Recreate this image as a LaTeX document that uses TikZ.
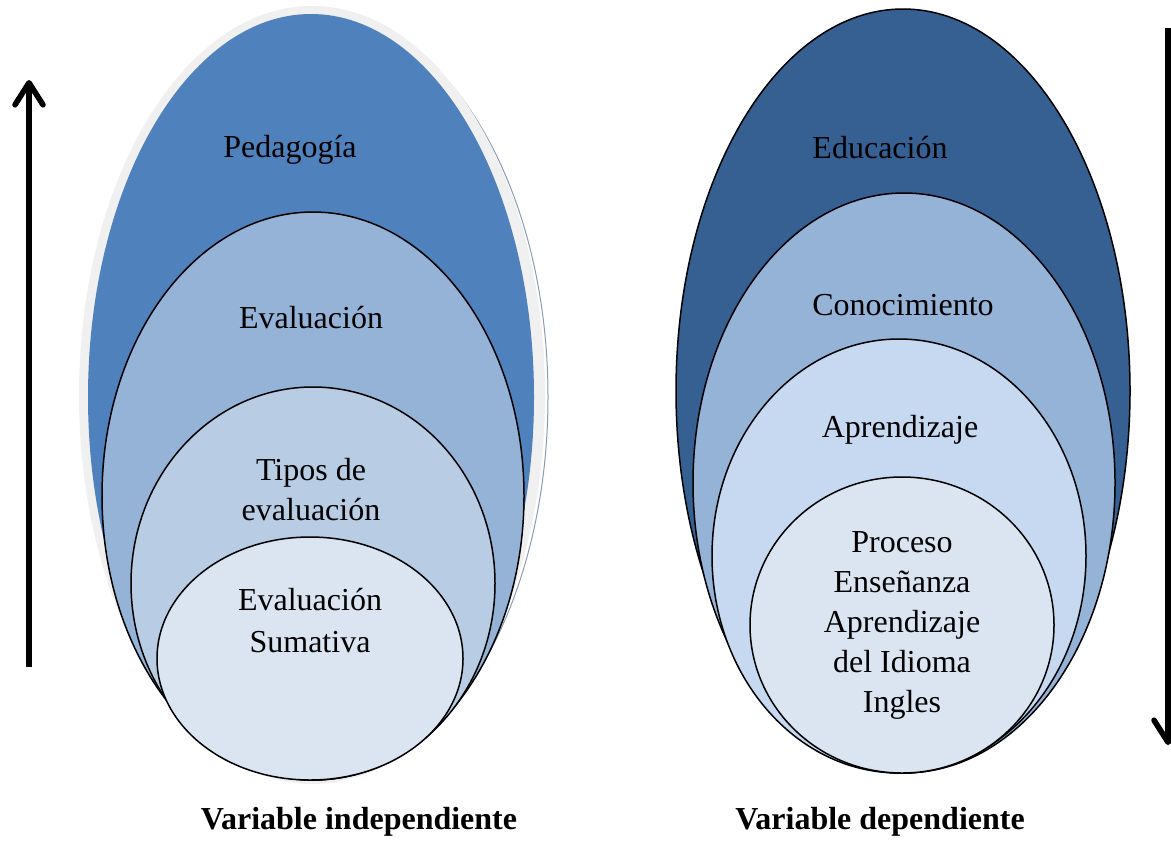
\documentclass[tikz,border=0pt]{standalone}
\usepackage{fontspec}
\setmainfont{Liberation Serif}
\usetikzlibrary{shapes.geometric,arrows.meta}
\definecolor{pedblue}{HTML}{4F81BD}
\definecolor{midblue}{HTML}{95B3D7}
\definecolor{tiposblue}{HTML}{B8CCE4}
\definecolor{paleblue}{HTML}{DBE5F1}
\definecolor{educblue}{HTML}{366092}
\definecolor{aprendblue}{HTML}{C6D9F1}
\definecolor{halogray}{HTML}{F0F0F0}
\definecolor{shadowline}{HTML}{8A9BB3}
\tikzset{
  ring/.style={ellipse, inner sep=0pt, outer sep=0pt, draw=black, line width=0.75pt},
  lbl/.style={font=\fontsize{16}{20}\selectfont, align=center, inner sep=0pt},
  captionlbl/.style={font=\fontsize{16}{20}\selectfont\bfseries, inner sep=0pt},
  bigarrow/.style={line width=2.8pt, -{Straight Barb[length=11pt, width=14pt, line cap=round, round]}}
}
\begin{document}
\begin{tikzpicture}[x=0.5pt, y=-0.5pt]
\useasboundingbox (0,0) rectangle (1171,841);
% ---- left diagram ----
\node[ellipse, inner sep=0pt, draw=shadowline, line width=0.5pt, minimum width=233pt, minimum height=385pt] (shd) at (315,397) {};
\node[ellipse, inner sep=0pt, fill=halogray, minimum width=233pt, minimum height=389pt] (halo) at (312,395) {};
\node[ellipse, inner sep=0pt, fill=pedblue, minimum width=223pt, minimum height=383pt] (ped) at (311,397) {};
\node[ring, fill=midblue, minimum width=211pt, minimum height=284pt] (eva) at (313,496) {};
\node[ring, fill=tiposblue, minimum width=182pt, minimum height=196.5pt] (tip) at (313,583.5) {};
\node[ring, fill=paleblue, minimum width=153pt, minimum height=121.5pt] (sum) at (310,658.5) {};
\node[lbl] (tped) at (290,150) {Pedagogía};
\node[lbl] (teva) at (311,318) {Evaluación};
\node[lbl] (ttip) at (311,490) {Tipos de\\evaluación};
\node[lbl, font=\fontsize{16}{21}\selectfont] (tsum) at (310,621) {Evaluación\\Sumativa};
\node[captionlbl] (capl) at (359,822) {Variable independiente};
% ---- right diagram ----
\node[ring, fill=educblue, minimum width=227pt, minimum height=382pt] (edu) at (903,391) {};
\node[ring, fill=midblue, minimum width=211pt, minimum height=290pt] (con) at (904,483) {};
\node[ring, fill=aprendblue, minimum width=187pt, minimum height=217pt] (apr) at (899,556) {};
\node[ring, fill=paleblue, minimum width=152pt, minimum height=148pt] (pro) at (902,625) {};
\node[lbl] (tedu) at (880,148) {Educación};
\node[lbl] (tcon) at (903,305) {Conocimiento};
\node[lbl] (tapr) at (900,430) {Aprendizaje};
\node[lbl, font=\fontsize{16}{20}\selectfont] (tpro) at (902,625) {Proceso\\Enseñanza\\Aprendizaje\\del Idioma\\Ingles};
\node[captionlbl] (capr) at (880,822) {Variable dependiente};
% ---- arrows ----
\coordinate (lbot) at (29,667);
\coordinate (ltop) at (29,80);
\draw[bigarrow] (lbot) -- (ltop);
\coordinate (rtop) at (1168,28);
\coordinate (rbot) at (1168,745);
\draw[bigarrow] (rtop) -- (rbot);
\end{tikzpicture}
\end{document}
